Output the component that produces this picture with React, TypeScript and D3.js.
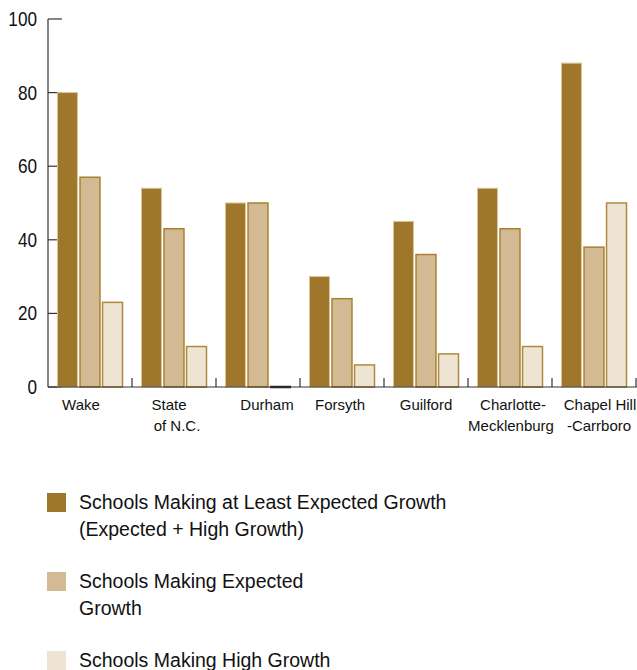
import React from "react";
import * as d3 from "d3";

const categories = ["Wake", "State of N.C.", "Durham", "Forsyth", "Guilford", "Charlotte-Mecklenburg", "Chapel Hill-Carrboro"];
const categoryLines = [["Wake"], ["State", "of N.C."], ["Durham"], ["Forsyth"], ["Guilford"], ["Charlotte-", "Mecklenburg"], ["Chapel Hill", "-Carrboro"]];
const atLeastExpected = [80, 54, 50, 30, 45, 54, 88];
const expectedGrowth = [57, 43, 50, 24, 36, 43, 38];
const highGrowth = [23, 11, 0, 6, 9, 11, 50];
const yTicks = [0, 20, 40, 60, 80, 100];
const seriesNames = [
  "Schools Making at Least Expected Growth (Expected + High Growth)",
  "Schools Making Expected Growth",
  "Schools Making High Growth",
];
const legendLines = [
  ["Schools Making at Least Expected Growth", "(Expected + High Growth)"],
  ["Schools Making Expected", "Growth"],
  ["Schools Making High Growth"],
];

// layout (not data)
const labelNudge = [[-9], [-5, 3], [9], [-2], [0], [3, 1], [6, 5]];
const fills = ["#9E772A", "#D4BA94", "#EDE4D4"];
const strokes = ["#D8C296", "#A8822F", "#B08A3C"];

const W = 637;
const H = 670;
const left = 48;
const right = 636;
const top = 19;
const bottom = 387;

export default function App() {
  const series = [atLeastExpected, expectedGrowth, highGrowth];
  const x0 = d3.scaleBand<string>().domain(categories).range([left, right]).paddingInner(18 / 84).paddingOuter(9 / 84);
  const x1 = d3.scaleBand<string>().domain(seriesNames).range([0, x0.bandwidth()]).paddingInner(0.07);
  const y = d3.scaleLinear().domain([0, 100]).range([bottom, top]);
  const font = "'Liberation Sans', Arial, sans-serif";

  return (
    <svg width={W} height={H} style={{ position: "absolute", left: 0, top: 0, display: "block" }} fontFamily={font}>
      {/* y ticks (inward) */}
      {yTicks.map((t) => (
        <g key={t}>
          <line x1={left} x2={left + 14} y1={y(t)} y2={y(t)} stroke="#333" strokeWidth={1.2} />
          <text
            transform={`translate(37,${y(t)}) scale(0.88,1)`}
            dy="0.36em"
            textAnchor="end"
            fontSize={19.5}
            fill="#111"
          >
            {t}
          </text>
        </g>
      ))}
      {/* bars */}
      {categories.map((c, ci) => (
        <g key={c} transform={`translate(${x0(c)},0)`}>
          {series.map((s, si) => {
            const v = s[ci];
            const bx = x1(seriesNames[si])!;
            if (v === 0) {
              return <line key={si} x1={bx} x2={bx + x1.bandwidth()} y1={bottom} y2={bottom} stroke="#222" strokeWidth={2.5} />;
            }
            return (
              <rect
                key={si}
                x={bx + 0.5}
                y={y(v)}
                width={x1.bandwidth() - 1}
                height={bottom - y(v)}
                fill={fills[si]}
                stroke={strokes[si]}
                strokeWidth={si === 0 ? 1 : 1.5}
              />
            );
          })}
        </g>
      ))}
      {/* axes */}
      <line x1={left} x2={left} y1={top} y2={bottom} stroke="#333" strokeWidth={1.2} />
      <line x1={left} x2={W} y1={bottom} y2={bottom} stroke="#333" strokeWidth={1.2} />
      {categories.map((c) => (
        <line key={c} x1={x0(c)! + x0.bandwidth() + 9} x2={x0(c)! + x0.bandwidth() + 9} y1={bottom} y2={bottom - 9} stroke="#333" strokeWidth={1.2} />
      ))}
      {/* category labels */}
      {categories.map((c, ci) => (
        <text key={c} fontSize={15} fill="#111" textAnchor="middle">
          {categoryLines[ci].map((ln, li) => (
            <tspan key={li} x={x0(c)! + x0.bandwidth() / 2 + labelNudge[ci][li]} y={410 + li * 21}>
              {ln}
            </tspan>
          ))}
        </text>
      ))}
      {/* legend */}
      {legendLines.map((lines, i) => {
        const ly = 493 + i * 79;
        return (
          <g key={i}>
            <rect x={47} y={ly} width={19} height={19} fill={fills[i]} />
            <text fontSize={19.5} fill="#111">
              {lines.map((ln, li) => (
                <tspan key={li} x={79} y={ly + 16 + li * 27}>
                  {ln}
                </tspan>
              ))}
            </text>
          </g>
        );
      })}
    </svg>
  );
}
